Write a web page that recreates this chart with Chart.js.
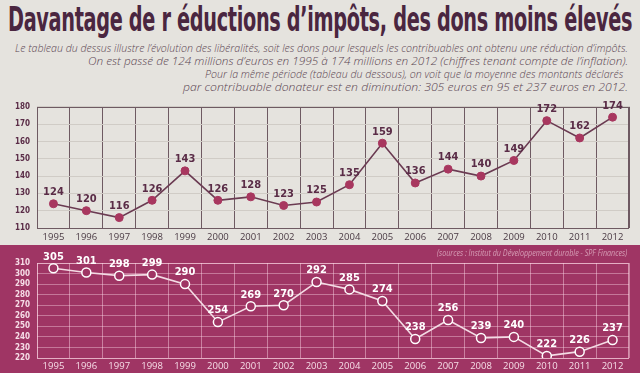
<!DOCTYPE html>
<html><head><meta charset="utf-8">
<script src="https://cdn.jsdelivr.net/npm/chart.js@4/dist/chart.umd.min.js"></script>
<style>
html,body{margin:0;padding:0;}
body{width:640px;height:373px;position:relative;overflow:hidden;background:#e5e3de;}
.t{position:absolute;white-space:nowrap;transform-origin:left top;}
#title{left:8px;top:0px;font:bold 33px "DejaVu Sans Condensed","Liberation Sans Narrow",sans-serif;color:#4a2640;letter-spacing:-0.5px;}
.sub{font:italic 300 11px "Open Sans","Lato",sans-serif;color:#5b4552;}
#band{position:absolute;left:0;top:245px;width:640px;height:128px;background:#9f3564;}
#c1w{position:absolute;left:0;top:95px;width:640px;height:150px;}
#c2w{position:absolute;left:0;top:245px;width:640px;height:128px;}
#src{font:italic 8.5px "Open Sans",sans-serif;color:rgba(255,235,242,0.55);top:247px;}
</style></head>
<body>
<div id="title" class="t">Davantage de r éductions d’impôts, des dons moins élevés</div>
<div id="s1" class="t sub" style="top:40px">Le tableau du dessus illustre l’évolution des libéralités, soit les dons pour lesquels les contribuables ont obtenu une réduction d’impôts.</div>
<div id="s2" class="t sub" style="top:53px">On est passé de 124 millions d’euros en 1995 à 174 millions en 2012 (chiffres tenant compte de l’inflation).</div>
<div id="s3" class="t sub" style="top:66px">Pour la même période (tableau du dessous), on voit que la moyenne des montants déclarés</div>
<div id="s4" class="t sub" style="top:79px">par contribuable donateur est en diminution: 305 euros en 95 et 237 euros en 2012.</div>
<div id="band"></div>
<div id="c1w"><canvas id="c1"></canvas></div>
<div id="c2w"><canvas id="c2"></canvas></div>
<div id="src" class="t">(sources : Institut du Développement durable - SPF Finances)</div>
<script>
const years = ['1995','1996','1997','1998','1999','2000','2001','2002','2003','2004','2005','2006','2007','2008','2009','2010','2011','2012'];
const liberalites = [124,120,116,126,143,126,128,123,125,135,159,136,144,140,149,172,162,174];
const moyenneDons = [305,301,298,299,290,254,269,270,292,285,274,238,256,239,240,222,226,237];
const topTicks = {min:110, max:180, step:10};
const bottomTicks = {min:220, max:310, step:10};

function fit(id, left, width){
  const el=document.getElementById(id);
  el.style.left=left+'px';
  const w=el.scrollWidth;
  el.style.transform='scaleX('+(width/w)+')';
}
fit('title',8,624);
fit('s1',15,613);
fit('s2',88,540);
fit('s3',205,418);
fit('s4',183,445);
fit('src',437,190);

const valueLabels = {
  id:'valueLabels',
  afterDatasetsDraw(chart,args,opts){
    const ctx=chart.ctx, meta=chart.getDatasetMeta(0), d=chart.data.datasets[0].data;
    ctx.save();
    ctx.font=opts.font; ctx.fillStyle=opts.color;
    ctx.textAlign='center'; ctx.textBaseline='bottom';
    meta.data.forEach((pt,i)=>ctx.fillText(String(d[i]), pt.x, pt.y-opts.offset));
    ctx.restore();
  }
};
const frame = {
  id:'frame',
  beforeDatasetsDraw(chart,args,opts){
    const a=chart.chartArea, ctx=chart.ctx;
    ctx.save(); ctx.strokeStyle=opts.color; ctx.lineWidth=1;
    ctx.strokeRect(Math.round(a.left)+0.5, Math.round(a.top)+0.5, Math.round(a.right-a.left)-1, Math.round(a.bottom-a.top));
    ctx.restore();
  }
};

function makeChart(id, data, t, st){
  return new Chart(document.getElementById(id), {
    type:'line',
    data:{labels:years, datasets:[{data:data, borderColor:st.line, borderWidth:1.6, pointRadius:st.r, pointHoverRadius:st.r,
      pointBackgroundColor:st.pfill, pointBorderColor:st.pborder, pointBorderWidth:st.pbw, tension:0}]},
    options:{
      responsive:true, maintainAspectRatio:false, animation:false,
      layout:{padding:{left:0,right:11,top:st.padTop,bottom:0}},
      plugins:{legend:{display:false}, tooltip:{enabled:false},
        valueLabels:{font:'bold 11px "DejaVu Sans Condensed","Open Sans",sans-serif', color:st.label, offset:st.lblOff},
        frame:{color:st.frame}},
      scales:{
        x:{offset:true, grid:{offset:true, color:st.vgrid, lineWidth:1, drawTicks:false},
           border:{display:false},
           ticks:{color:st.xtick, font:{family:'"Open Sans",sans-serif', size:9.5}, padding:st.xpad, maxRotation:0, autoSkip:false},
           afterFit(s){s.height=st.xh;}},
        y:{min:t.min, max:t.max, grid:{color:st.hgrid, lineWidth:1, drawTicks:false}, border:{display:false},
           ticks:{stepSize:t.step, autoSkip:false, color:st.ytick, font:{family:'"DejaVu Sans Condensed",sans-serif', size:8, weight:'bold'}, padding:7},
           afterFit(s){s.width=37;}}
      }
    },
    plugins:[valueLabels, frame]
  });
}
makeChart('c1', liberalites, topTicks, {
  line:'#6b3b52', r:4, pfill:'#a8375f', pborder:'#a8375f', pbw:1, padTop:7,
  label:'#5a2c47', lblOff:6, frame:'#6e5a62', vgrid:'#6e5a62', hgrid:'#d0ccc6',
  xtick:'#4a3a44', ytick:'#5a2c47', xpad:4, xh:17
});
makeChart('c2', moyenneDons, bottomTicks, {
  line:'#f3dbe4', r:4.5, pfill:'#9f3564', pborder:'#ffffff', pbw:1.5, padTop:18,
  label:'#ffffff', lblOff:6, frame:'rgba(255,220,232,0.55)', vgrid:'rgba(255,220,232,0.45)', hgrid:'rgba(255,220,232,0.4)',
  xtick:'#f6dde7', ytick:'#f6dde7', xpad:3, xh:15
});
</script>
</body></html>
